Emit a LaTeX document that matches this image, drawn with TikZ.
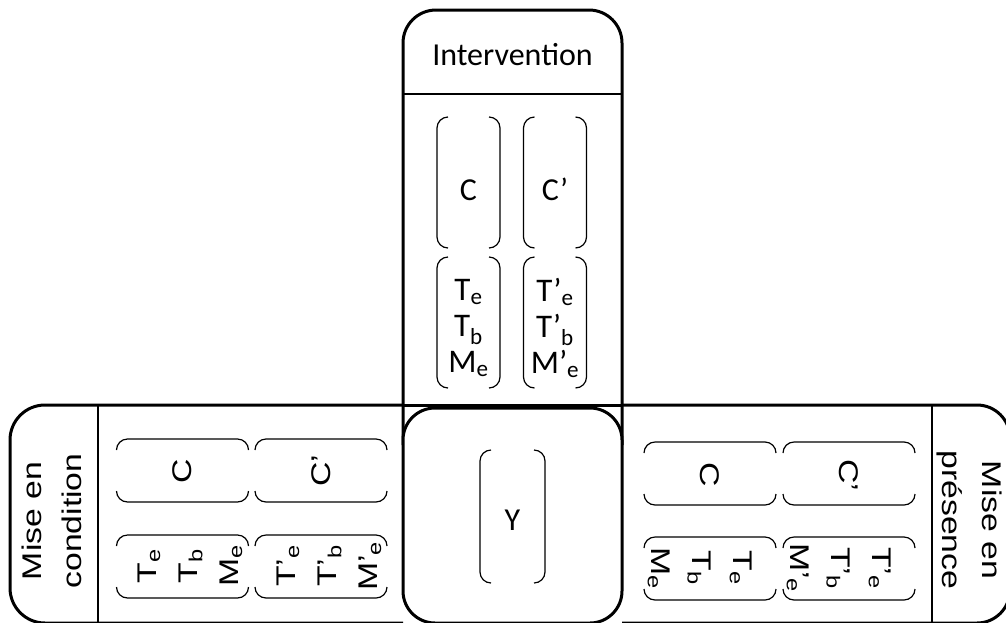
\documentclass[tikz,border=0pt]{standalone}
\usepackage{fontspec}
\setmainfont{Carlito}
\newfontfamily\arialf{Liberation Sans}
\newcommand\vbrack[1]{%
 \draw[br] ([xshift=11pt]#1.north west) -- (#1.north west) -- (#1.south west) -- ([xshift=11pt]#1.south west);
 \draw[br] ([xshift=-11pt]#1.north east) -- (#1.north east) -- (#1.south east) -- ([xshift=-11pt]#1.south east);}
\newcommand\hbrack[1]{%
 \draw[br] ([yshift=-11pt]#1.north west) -- (#1.north west) -- (#1.north east) -- ([yshift=-11pt]#1.north east);
 \draw[br] ([yshift=11pt]#1.south west) -- (#1.south west) -- (#1.south east) -- ([yshift=11pt]#1.south east);}
\begin{document}
\begin{tikzpicture}[x=1pt,y=-1pt,
  outline/.style={line width=3pt},
  divider/.style={line width=1.3pt},
  br/.style={line width=1.2pt, rounded corners=11pt},
  vbox/.style={inner sep=0pt, outer sep=0pt, minimum width=63pt, minimum height=131pt},
  hbox/.style={inner sep=0pt, outer sep=0pt, minimum width=132pt, minimum height=63pt},
  toptxt/.style={font=\fontsize{32}{36}\selectfont, align=center, inner sep=0pt},
  tlines/.style={font=\fontsize{33}{36}\selectfont, align=center, inner sep=0pt},
  sidetxt/.style={font=\arialf\fontsize{27}{41}\selectfont, align=center, inner sep=0pt, xscale=1.25},
  titletxt/.style={font=\arialf\fontsize{27}{40}\selectfont, align=center, inner sep=0pt, xscale=1.25},
]
\useasboundingbox (0,0) rectangle (1006,622);
% panels
\draw[outline, rounded corners=33pt] (403,445) -- (403,10) -- (622,10) -- (622,445);
\draw[divider] (403,94) -- (622,94);
\draw[outline, rounded corners=35pt] (403,405) -- (10,405) -- (10,623) -- (403,623);
\draw[outline, rounded corners=33pt] (622,405) -- (1010,405) -- (1010,623) -- (622,623);
\draw[outline] (403,405) -- (622,405);
\draw[divider] (98,405) -- (98,623);
\draw[divider] (932,405) -- (932,623);
\draw[outline, fill=white, rounded corners=32pt] (403,408) rectangle (622,623);
% top boxes
\node[vbox] (tC) at (468.5,182.5) {};
\node[vbox] (tCp) at (555,182.5) {};
\node[vbox] (tT) at (468.5,322.5) {};
\node[vbox] (tTp) at (555,322.5) {};
\vbrack{tC}\vbrack{tCp}\vbrack{tT}\vbrack{tTp}
\node[toptxt, anchor=base] (ttl) at (512.5,65) {Intervention};
\node[toptxt, anchor=base] (tCt) at (468.5,200) {C};
\node[toptxt, anchor=base] (tCpt) at (555,200) {C’};
\node[tlines] (tTt) at (468.5,328) {T\textsubscript{e}\\T\textsubscript{b}\\M\textsubscript{e}};
\node[tlines] (tTpt) at (555,328) {T’\textsubscript{e}\\T’\textsubscript{b}\\M’\textsubscript{e}};
% centre
\node[vbox, minimum width=65pt, minimum height=133pt] (cY) at (512.5,516.5) {};
\vbrack{cY}
\node[toptxt, anchor=base] (cYt) at (512.5,530) {Y};
% left boxes
\node[hbox] (lC) at (182.5,470.5) {};
\node[hbox] (lCp) at (321,470.5) {};
\node[hbox] (lT) at (182.5,566.5) {};
\node[hbox] (lTp) at (321,566.5) {};
\hbrack{lC}\hbrack{lCp}\hbrack{lT}\hbrack{lTp}
\node[rotate=90, titletxt] (ltl) at (52,521) {Mise en\\condition};
\node[rotate=90, sidetxt] (lCt) at (182,471) {C};
\node[rotate=90, sidetxt] (lCpt) at (321,471) {C’};
\node[rotate=90, sidetxt] (lTt) at (190,566) {T\textsubscript{e}\\T\textsubscript{b}\\M\textsubscript{e}};
\node[rotate=90, sidetxt] (lTpt) at (329,566) {T’\textsubscript{e}\\T’\textsubscript{b}\\M’\textsubscript{e}};
% right boxes
\node[hbox] (rC) at (710,473.5) {};
\node[hbox] (rCp) at (849,473.5) {};
\node[hbox] (rT) at (710,568.5) {};
\node[hbox] (rTp) at (849,568.5) {};
\hbrack{rC}\hbrack{rCp}\hbrack{rT}\hbrack{rTp}
\node[rotate=-90, titletxt] (rtl) at (969,520) {Mise en\\présence};
\node[rotate=-90, sidetxt] (rCt) at (710,475) {C};
\node[rotate=-90, sidetxt] (rCpt) at (849,475) {C’};
\node[rotate=-90, sidetxt] (rTt) at (700,568) {T\textsubscript{e}\\T\textsubscript{b}\\M\textsubscript{e}};
\node[rotate=-90, sidetxt] (rTpt) at (839,568) {T’\textsubscript{e}\\T’\textsubscript{b}\\M’\textsubscript{e}};
\end{tikzpicture}
\end{document}
